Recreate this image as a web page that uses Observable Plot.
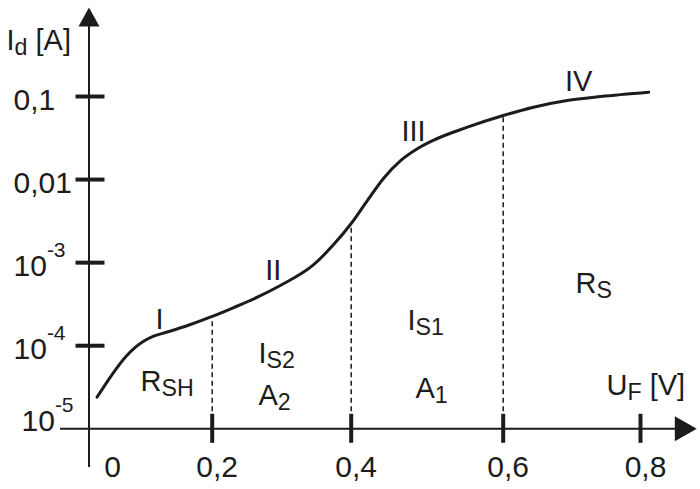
<!DOCTYPE html>
<html><head><meta charset="utf-8">
<script src="https://cdn.jsdelivr.net/npm/d3@7"></script>
<script src="https://cdn.jsdelivr.net/npm/@observablehq/plot@0.6"></script>
<style>body{margin:0;background:#fff}#chart svg{display:block;background:#fff}</style>
</head><body><div id="chart"></div>
<script>
// ---- data ----
const curveU = [0.013, 0.03, 0.045, 0.06, 0.075, 0.09, 0.105, 0.127, 0.159, 0.20, 0.231, 0.265, 0.298, 0.346, 0.375, 0.40, 0.421, 0.443, 0.465, 0.487, 0.508, 0.553, 0.60, 0.644, 0.693, 0.742, 0.812];
const curveI = [2.4e-5, 3.72e-5, 5.37e-5, 7.41e-5, 9.55e-5, 1.148e-4, 1.303e-4, 1.462e-4, 1.738e-4, 2.25e-4, 2.88e-4, 3.84e-4, 5.31e-4, 9.44e-4, 1.66e-3, 2.96e-3, 5.55e-3, 0.01045, 0.0169, 0.0235, 0.02965, 0.0427, 0.059, 0.0743, 0.0895, 0.1, 0.1127];
const boundaryU = [0.2, 0.4, 0.6];
const boundaryI = [2.25e-4, 2.96e-3, 0.059];
const xTickValues = [0.2, 0.4, 0.6, 0.8];
const xTickLabels = ["0,2", "0,4", "0,6", "0,8"];
const xZeroValue = [0];
const xZeroLabel = ["0"];
const yTickValues = [1e-4, 1e-3, 0.01, 0.1];
const yTickLabels = ["10^{-4}", "10^{-3}", "0,01", "0,1"];
const yBaseValue = [1e-5];
const yBaseLabel = ["10^{-5}"];
const numeralText = ["I", "II", "III", "IV"];
const numeralU = [0.1145, 0.288, 0.482, 0.71];
const numeralI = [1.61e-4, 6.1e-4, 0.0295, 0.118];
const regionText = ["R_{SH}", "I_{S2}", "A_{2}", "I_{S1}", "A_{1}", "R_{S}"];
const regionU = [0.0836, 0.2666, 0.2666, 0.4741, 0.4846, 0.7053];
const regionI = [2.89e-5, 6.28e-5, 1.91e-5, 1.53e-4, 2.38e-5, 4.37e-4];
const xTitle = ["U_{F} [V]"];
const xTitleAt = [0.7505, 2.52e-5];
const yTitle = ["I_{d} [A]"];
const yTitleAt = [0, 0.358];
const xAxisExtent = [-0.0463, 0.86];
const yAxisExtent = [3.42e-6, 0.82];
const xArrowTip = [0.882, 1e-5];
const yArrowTip = [0, 1.18];
const xTickLabelI = 2.6e-6;

// ---- build ----
const ink = "#1c1c1c";
const font = "Liberation Sans, Arial, Helvetica, sans-serif";
const curve = curveU.map((u, k) => ({u, i: curveI[k]}));
const bounds = boundaryU.map((u, k) => ({u, i: boundaryI[k]}));
const numerals = numeralText.map((t, k) => ({t, u: numeralU[k], i: numeralI[k]}));
const regions = regionText.map((t, k) => ({t, u: regionU[k], i: regionI[k]}));
const yTicks = yTickValues.map((v, k) => ({v, t: yTickLabels[k]}));
const xTicks = xTickValues.map((v, k) => ({v, t: xTickLabels[k]}));

const arrowUp = {draw(ctx) { ctx.moveTo(0, 0); ctx.lineTo(10.5, 19); ctx.lineTo(-10.5, 19); ctx.closePath(); }};
const arrowRight = {draw(ctx) { ctx.moveTo(0, 0); ctx.lineTo(-22, 12.5); ctx.lineTo(-22, -12.5); ctx.closePath(); }};

const txt = {fontFamily: font, fontSize: 29, fill: ink};
const tickTxt = {fontFamily: font, fontSize: 30, fill: ink};

const chart = Plot.plot({
  width: 700, height: 489,
  marginLeft: 13, marginRight: 0, marginTop: 0, marginBottom: 0,
  style: {background: "#fff", fontFamily: font},
  x: {type: "linear", domain: [0, 0.2, 0.4, 0.6, 0.8], range: [88.5, 211.7, 350.7, 502.7, 640], axis: null},
  y: {type: "log", domain: [1e-5, 0.1], range: [428.3, 96], axis: null},
  marks: [
    // axes
    Plot.ruleX([0], {x: d => d, y1: yAxisExtent[0], y2: yAxisExtent[1], stroke: ink, strokeWidth: 2}),
    Plot.ruleY([1e-5], {y: d => d, x1: xAxisExtent[0], x2: xAxisExtent[1], stroke: ink, strokeWidth: 2}),
    Plot.dot([yArrowTip], {x: d => d[0], y: d => d[1], symbol: arrowUp, fill: ink, stroke: "none"}),
    Plot.dot([xArrowTip], {x: d => d[0], y: d => d[1], symbol: arrowRight, fill: ink, stroke: "none"}),
    // ticks
    Plot.ruleY(yTicks, {y: "v", x1: 0, x2: 0, insetLeft: -13, insetRight: -16, stroke: ink, strokeWidth: 4}),
    Plot.ruleX(xTicks, {x: "v", y1: 1e-5, y2: 1e-5, insetTop: -14.5, insetBottom: -14.5, stroke: ink, strokeWidth: 4}),
    // dashed region boundaries
    Plot.ruleX(bounds, {x: "u", y1: 1e-5, y2: "i", stroke: ink, strokeWidth: 1.5, strokeDasharray: "5,3.5"}),
    // characteristic
    Plot.line(curve, {x: "u", y: "i", curve: "monotone-x", stroke: ink, strokeWidth: 3}),
    // tick labels
    Plot.text(yTicks, {y: "v", text: "t", frameAnchor: "left", textAnchor: "start", lineAnchor: "middle", dy: 4, ...tickTxt}),
    Plot.text(yBaseValue, {y: d => d, text: (d, k) => yBaseLabel[k], frameAnchor: "left", textAnchor: "start", lineAnchor: "middle", dx: 8, dy: -7, ...tickTxt}),
    Plot.text(xTicks, {x: "v", y: () => xTickLabelI, text: "t", textAnchor: "middle", lineAnchor: "bottom", dx: 5, ...tickTxt}),
    Plot.text(xZeroValue, {x: d => d, y: () => xTickLabelI, text: (d, k) => xZeroLabel[k], textAnchor: "middle", lineAnchor: "bottom", dx: 23.5, ...tickTxt}),
    // titles
    Plot.text(xTitle, {x: () => xTitleAt[0], y: () => xTitleAt[1], text: d => d, textAnchor: "start", lineAnchor: "bottom", ...txt}),
    Plot.text(yTitle, {x: () => yTitleAt[0], y: () => yTitleAt[1], text: d => d, textAnchor: "end", lineAnchor: "bottom", dx: -18, ...txt}),
    // annotations
    Plot.text(numerals, {x: "u", y: "i", text: "t", textAnchor: "middle", lineAnchor: "bottom", ...txt}),
    Plot.text(regions, {x: "u", y: "i", text: "t", textAnchor: "start", lineAnchor: "bottom", ...txt})
  ]
});

// sub/superscripts as real tspans
function richify(svg) {
  svg.querySelectorAll("text").forEach(t => {
    const s = t.textContent;
    if (!/[_^]\{/.test(s)) return;
    while (t.firstChild) t.removeChild(t.firstChild);
    const re = /([_^])\{([^}]*)\}/g;
    let last = 0, m, shift = 0;
    const add = (str, kind) => {
      const ts = document.createElementNS("http://www.w3.org/2000/svg", "tspan");
      ts.textContent = str;
      const target = kind === "sub" ? 5 : kind === "sup" ? -19 : 0;
      if (target !== shift) { ts.setAttribute("dy", target - shift); shift = target; }
      if (kind) ts.setAttribute("font-size", kind === "sup" ? "0.7em" : "0.8em");
      t.appendChild(ts);
    };
    while ((m = re.exec(s))) {
      if (m.index > last) add(s.slice(last, m.index), null);
      add(m[2], m[1] === "_" ? "sub" : "sup");
      last = re.lastIndex;
    }
    if (last < s.length) add(s.slice(last), null);
  });
}
richify(chart);
document.getElementById("chart").appendChild(chart);
</script>
</body></html>
